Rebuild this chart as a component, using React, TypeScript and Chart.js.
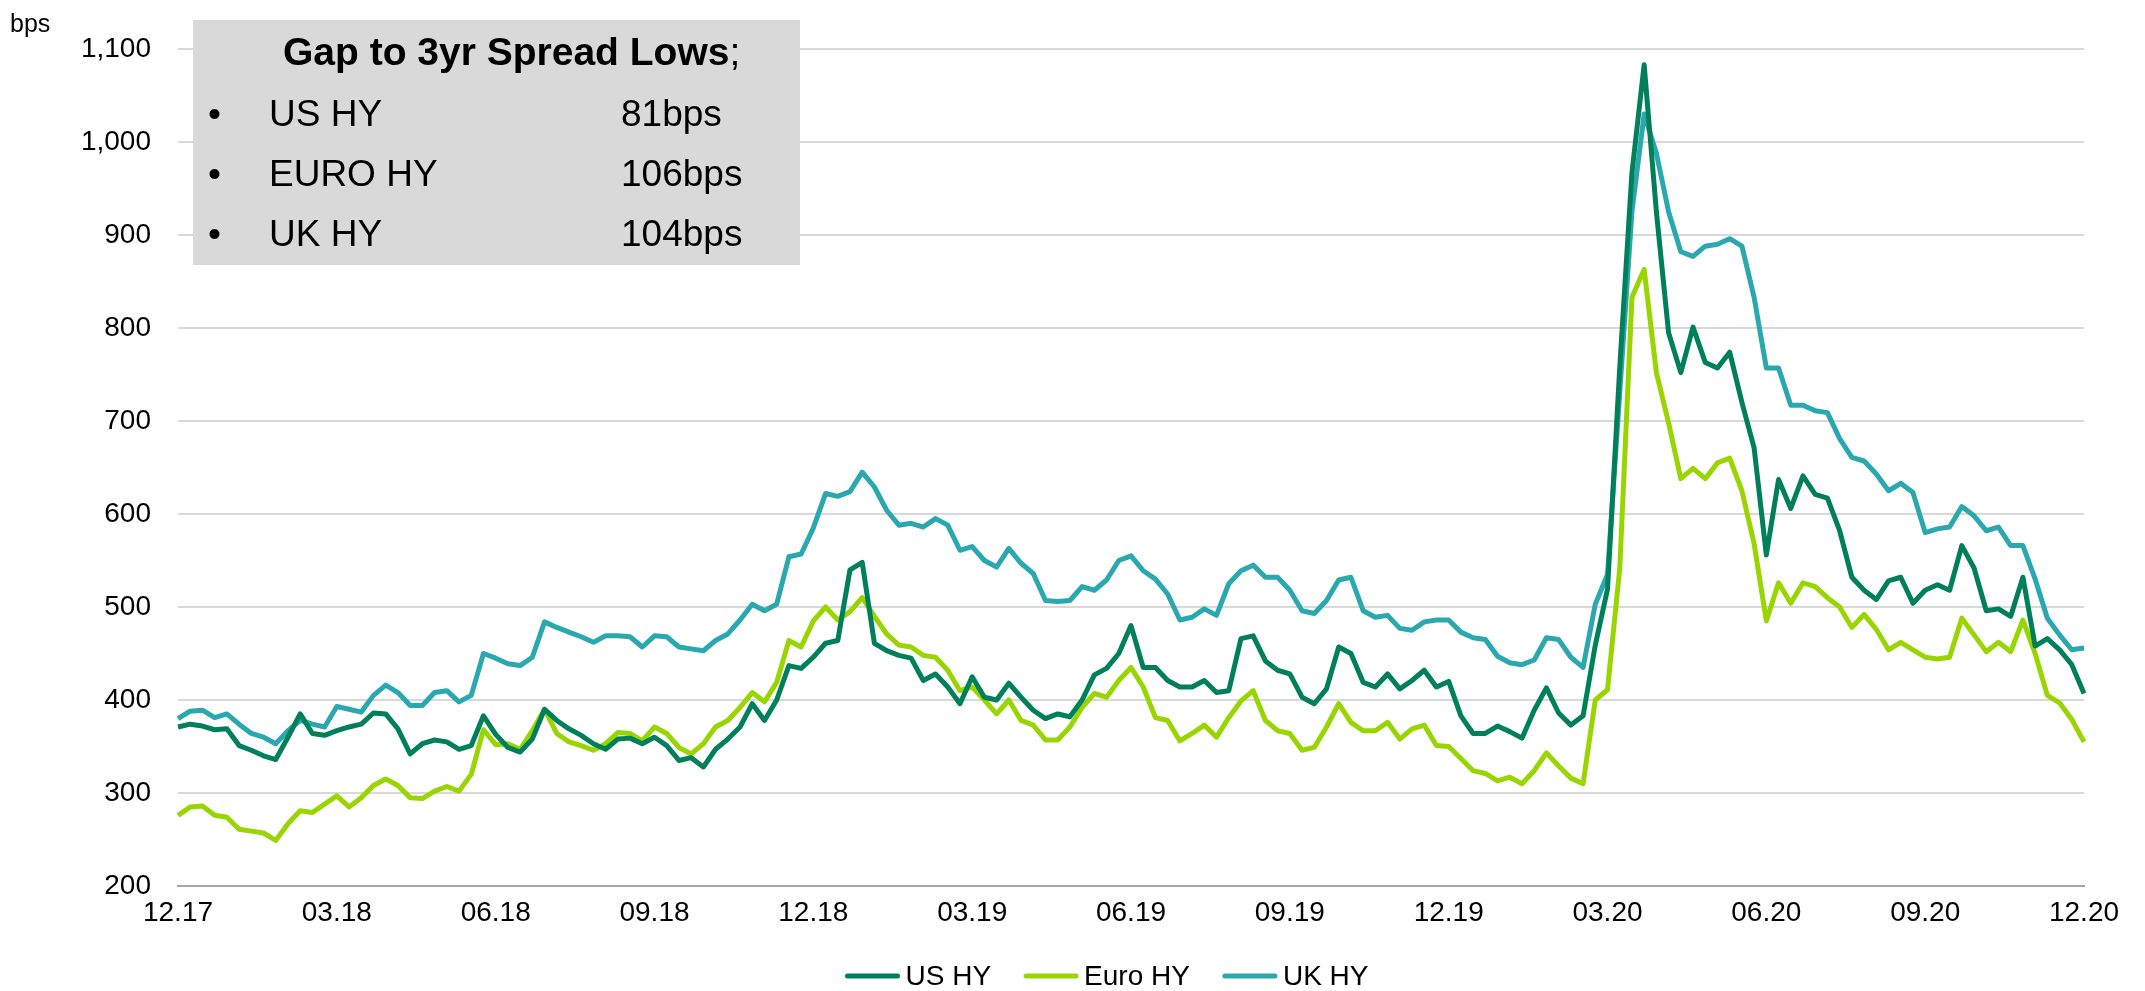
import React, { useEffect, useRef } from 'react';
import { Chart, registerables } from 'chart.js';

Chart.register(...registerables);

// Quarter tick labels (one every 13 weekly points)
const tickLabels = ['12.17', '03.18', '06.18', '09.18', '12.18', '03.19', '06.19', '09.19', '12.19', '03.20', '06.20', '09.20', '12.20'];
const pointsPerTick = 13;

// Weekly spread levels (bps)
const usHY = [
  371, 374, 372, 368, 369, 351, 346, 340, 336, 360, 385, 364, 362, 367, 371, 374, 386, 385, 369, 342, 353, 357, 355, 347, 351, 383, 363,
  349, 344, 358, 390, 378, 369, 362, 353, 347, 358, 359, 353, 360, 351, 335, 338, 328, 347, 358, 371, 396, 378, 400, 437, 434, 446,
  461, 464, 540, 548, 461, 453, 448, 445, 421, 428, 414, 396, 425, 403, 400, 418, 403, 389, 380, 385, 382, 400, 427, 434, 450, 480,
  435, 435, 421, 414, 414, 421, 408, 410, 466, 469, 442, 432, 428, 403, 396, 412, 457, 450, 419, 414, 428, 412, 421, 432, 414, 420,
  383, 364, 364, 372, 366, 359, 389, 413, 386, 373, 383, 459, 519, 757, 967, 1083, 925, 795, 752, 801, 763, 757, 774, 720, 671, 556,
  637, 606, 641, 621, 617, 582, 532, 518, 508, 528, 532, 504, 518, 524, 518, 566, 542, 496, 498, 490, 532, 458, 466, 454, 438, 407,
];

const euroHY = [
  276, 285, 286, 276, 274, 261, 259, 257, 249, 267, 281, 279, 288, 297, 285, 295, 308, 315, 308, 295, 294, 302, 307, 302, 320, 368, 352,
  353, 347, 367, 390, 364, 355, 351, 346, 353, 365, 364, 356, 371, 364, 349, 342, 353, 371, 378, 392, 408, 398, 419, 464, 457, 485,
  500, 486, 495, 510, 490, 471, 459, 457, 448, 446, 432, 410, 414, 400, 385, 400, 378, 373, 357, 357, 371, 392, 407, 403, 421, 435,
  414, 381, 378, 356, 364, 373, 360, 381, 399, 410, 378, 367, 364, 346, 349, 371, 396, 376, 367, 367, 376, 358, 369, 373, 351, 350,
  337, 324, 321, 313, 317, 310, 324, 343, 329, 316, 310, 400, 411, 541, 833, 863, 752, 698, 638, 649, 638, 655, 660, 625, 568, 485,
  526, 504, 526, 522, 510, 500, 478, 492, 476, 454, 462, 454, 446, 444, 446, 488, 470, 452, 462, 452, 486, 450, 405, 397, 379, 355,
];

const ukHY = [
  380, 388, 389, 381, 385, 374, 364, 360, 353, 367, 378, 374, 371, 393, 390, 387, 405, 416, 408, 394, 394, 408, 410, 398, 405, 450, 445,
  439, 437, 446, 484, 478, 473, 468, 462, 469, 469, 468, 457, 469, 468, 457, 455, 453, 464, 471, 486, 503, 496, 503, 554, 557, 585,
  622, 619, 624, 645, 629, 604, 588, 590, 586, 595, 588, 561, 565, 550, 543, 563, 547, 536, 507, 506, 507, 522, 518, 529, 550, 555,
  539, 530, 514, 486, 489, 498, 491, 525, 539, 545, 532, 532, 518, 496, 493, 507, 529, 532, 496, 489, 491, 477, 475, 484, 486, 486,
  473, 467, 465, 447, 440, 438, 443, 467, 465, 446, 435, 503, 535, 730, 925, 1030, 988, 925, 882, 877, 888, 890, 896, 888, 833, 757,
  757, 717, 717, 711, 709, 681, 661, 657, 643, 625, 633, 623, 580, 584, 586, 608, 598, 582, 586, 566, 566, 530, 488, 470, 454, 456,
];

const seriesNames = ['US HY', 'Euro HY', 'UK HY'];
const seriesColors = ['#00805a', '#99d500', '#2aa8b0'];

const yMin = 200;
const yMax = 1100;
const yStep = 100;

const boxTitle = 'Gap to 3yr Spread Lows';
const boxRowLabels = ['US HY', 'EURO HY', 'UK HY'];
const boxRowValues = ['81bps', '106bps', '104bps'];
const unitLabel = 'bps';

const FONT = '"Liberation Sans", Arial, Helvetica, sans-serif';

const overlayPlugin = {
  id: 'overlay',
  afterDraw(chart: any) {
    const ctx = chart.ctx as CanvasRenderingContext2D;
    ctx.save();
    // unit label
    ctx.fillStyle = '#000';
    ctx.textAlign = 'left';
    ctx.textBaseline = 'alphabetic';
    ctx.font = `25px ${FONT}`;
    ctx.fillText(unitLabel, 10, 32);

    // text box
    ctx.fillStyle = '#d9d9d9';
    ctx.fillRect(193, 20, 607, 245);
    ctx.fillStyle = '#000';
    ctx.font = `bold 39px ${FONT}`;
    const wBold = ctx.measureText(boxTitle).width;
    ctx.font = `39px ${FONT}`;
    const wSemi = ctx.measureText(';').width;
    const tx = 283;
    ctx.font = `bold 39px ${FONT}`;
    ctx.fillText(boxTitle, tx, 65);
    ctx.font = `39px ${FONT}`;
    ctx.fillText(';', tx + wBold, 65);
    ctx.font = `37px ${FONT}`;
    const rowY = [126, 186, 246];
    boxRowLabels.forEach((lab, i) => {
      ctx.fillText('\u2022', 208, rowY[i]);
      ctx.fillText(lab, 269, rowY[i]);
      ctx.fillText(boxRowValues[i], 621, rowY[i]);
    });
    void wSemi;

    // legend
    ctx.font = `28px ${FONT}`;
    ctx.textBaseline = 'middle';
    const lineLen = 54;
    const gap = 6;
    const itemGap = 33;
    const widths = seriesNames.map((n) => lineLen + gap + ctx.measureText(n).width);
    const total = widths.reduce((a, b) => a + b, 0) + itemGap * (widths.length - 1);
    let x = 1107 - total / 2;
    const ly = 976;
    seriesNames.forEach((n, i) => {
      ctx.strokeStyle = seriesColors[i];
      ctx.lineWidth = 5;
      ctx.lineCap = 'round';
      ctx.beginPath();
      ctx.moveTo(x + 2, ly);
      ctx.lineTo(x + lineLen - 2, ly);
      ctx.stroke();
      ctx.fillStyle = '#000';
      ctx.fillText(n, x + lineLen + gap, ly + 1);
      x += widths[i] + itemGap;
    });
    ctx.restore();
  },
};

export default function App() {
  const canvasRef = useRef<HTMLCanvasElement | null>(null);

  useEffect(() => {
    document.body.style.margin = '0';
    document.body.style.background = '#fff';
    const canvas = canvasRef.current;
    if (!canvas) return;
    const labels = usHY.map((_, i) => (i % pointsPerTick === 0 ? tickLabels[i / pointsPerTick] : ''));
    const seriesData = [usHY, euroHY, ukHY];
    const chart = new Chart(canvas, {
      type: 'line',
      data: {
        labels,
        datasets: seriesNames.map((name, i) => ({
          label: name,
          data: seriesData[i],
          borderColor: seriesColors[i],
          backgroundColor: seriesColors[i],
          borderWidth: 5,
          pointRadius: 0,
          tension: 0,
          fill: false,
          borderJoinStyle: 'round' as const,
        })),
      },
      options: {
        responsive: false,
        animation: false,
        devicePixelRatio: 1,
        layout: { padding: { left: 0, right: 61, top: 49, bottom: 0 } },
        plugins: {
          legend: { display: false },
          tooltip: { enabled: false },
        },
        scales: {
          x: {
            type: 'category',
            offset: false,
            grid: { display: false, drawTicks: false },
            border: { display: true, color: '#a6a6a6', width: 2 },
            ticks: {
              autoSkip: false,
              maxRotation: 0,
              minRotation: 0,
              padding: 10,
              color: '#000',
              font: { family: FONT, size: 28 },
              callback: (_v: any, idx: number) => (idx % pointsPerTick === 0 ? tickLabels[idx / pointsPerTick] : null),
            },
            afterFit: (s: any) => {
              s.height = 105;
            },
          },
          y: {
            min: yMin,
            max: yMax,
            grid: { color: '#d9d9d9', lineWidth: 2, drawTicks: false },
            border: { display: false },
            ticks: {
              stepSize: yStep,
              padding: 27,
              color: '#000',
              font: { family: FONT, size: 28 },
              callback: (v: any) => Number(v).toLocaleString('en-US'),
            },
            afterFit: (s: any) => {
              s.width = 178;
            },
          },
        },
      },
      plugins: [overlayPlugin],
    });
    return () => chart.destroy();
  }, []);

  return (
    <div style={{ width: 2145, height: 991, position: 'relative', overflow: 'hidden' }}>
      <canvas ref={canvasRef} width={2145} height={991} style={{ display: 'block', width: 2145, height: 991 }} />
    </div>
  );
}
